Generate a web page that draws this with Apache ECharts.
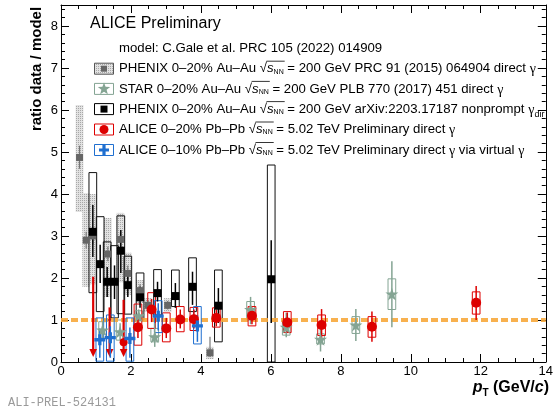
<!DOCTYPE html>
<html><head><meta charset="utf-8">
<script src="https://cdn.jsdelivr.net/npm/echarts@6/dist/echarts.min.js"></script>
<style>html,body{margin:0;padding:0;background:#fff}#c{width:556px;height:410px}</style>
</head><body><div id="c"></div>
<script>
// ---------------- data ----------------
// rows: [pT, ratio, statLow, statHigh, sysLow, sysHigh]
const phenix2015 = [
  [0.53, 4.87, 4.60, 5.15, 3.57, 6.12],
  [0.72, 2.90, 2.70, 3.10, 1.79, 4.02],
  [0.91, 3.00, 2.80, 3.20, 1.85, 4.00],
  [1.34, 2.57, 2.40, 2.75, 1.55, 3.43],
  [1.70, 2.92, 2.75, 3.10, 1.90, 3.55],
  [1.91, 2.11, 1.95, 2.30, 1.60, 2.60],
  [2.26, 1.70, 1.55, 1.85, 1.40, 1.95],
  [2.49, 1.35, 1.25, 1.45, 1.19, 1.52],
  [3.05, 1.35, 1.25, 1.45, 1.19, 1.52],
  [4.26, 0.22, 0.12, 0.60, 0.07, 0.36]
];
const star2017 = [
  [1.19, 0.76, 0.55, 0.98, 0.57, 0.96],
  [1.69, 0.72, 0.52, 0.92, 0.52, 1.00],
  [2.22, 1.10, 0.95, 1.25, 0.98, 1.22],
  [2.68, 0.60, 0.36, 0.93, 0.48, 0.80],
  [5.42, 1.25, 0.90, 1.55, 1.00, 1.44],
  [6.44, 0.83, 0.59, 1.17, 0.64, 1.00],
  [7.42, 0.54, 0.25, 0.83, 0.43, 0.67],
  [8.43, 0.88, 0.50, 1.26, 0.68, 1.08],
  [9.46, 1.62, 0.83, 2.40, 1.25, 1.98]
];
const phenixNonprompt = [
  [0.91, 3.10, 2.50, 3.74, 1.65, 4.51],
  [1.12, 2.33, 1.88, 2.79, 1.20, 3.46],
  [1.32, 1.91, 1.55, 2.26, 1.00, 2.86],
  [1.53, 1.91, 1.50, 2.30, 1.05, 2.77],
  [1.71, 2.65, 2.12, 3.14, 1.15, 3.48],
  [1.91, 1.83, 1.55, 2.12, 1.14, 2.52],
  [2.26, 1.54, 1.29, 1.79, 1.00, 2.12],
  [2.76, 1.64, 1.44, 1.91, 1.12, 2.20],
  [3.27, 1.57, 1.29, 1.88, 1.32, 2.19],
  [3.76, 1.79, 1.36, 2.15, 1.20, 2.48],
  [4.50, 1.34, 0.93, 1.76, 0.48, 2.19],
  [6.01, 1.97, 0.93, 2.90, 0.00, 4.69]
];
const alice020 = [
  [2.20, 0.83, 0.57, 1.12, 0.40, 1.38],
  [2.59, 1.25, 0.95, 1.50, 0.80, 1.65],
  [3.01, 0.80, 0.57, 1.05, 0.48, 1.17],
  [3.41, 1.01, 0.80, 1.25, 0.72, 1.32],
  [3.80, 1.02, 0.80, 1.25, 0.75, 1.30],
  [4.44, 1.05, 0.85, 1.25, 0.83, 1.29],
  [5.46, 1.10, 0.90, 1.30, 0.86, 1.32],
  [6.47, 0.94, 0.70, 1.18, 0.70, 1.20],
  [7.45, 0.88, 0.52, 1.26, 0.63, 1.12],
  [8.89, 0.84, 0.48, 1.20, 0.59, 1.08],
  [11.87, 1.41, 1.00, 1.81, 1.14, 1.67]
];
// upper limits: [pT, limit]
const alice020Limits = [[0.92, 2.03], [1.39, 1.30], [1.79, 1.48]];
const alice020LowPt = [[1.79, 0.47]];
const alice010Virtual = [
  [1.11, 0.53, 0.10, 0.80, 0.02, 1.05],
  [1.41, 0.58, 0.10, 0.85, 0.02, 1.12],
  [1.97, 0.56, 0.10, 0.82, 0.02, 1.05],
  [2.78, 1.09, 0.75, 1.40, 0.70, 1.46],
  [3.90, 0.86, 0.48, 1.12, 0.43, 1.32]
];
const unityRatio = 1;
const xRange = [0, 13.86];
const yRange = [0, 8.5];
const xTickLabels = ['0', '2', '4', '6', '8', '10', '12', '14'];
const yTickLabels = ['0', '1', '2', '3', '4', '5', '6', '7', '8'];
const yTitle = 'ratio data / model';
const headerTitle = 'ALICE Preliminary';
const modelText = 'model: C.Gale et al. PRC 105 (2022) 014909';
const legendTexts = [
  'PHENIX 0–20% Au–Au {sqrt} = 200 GeV PRC 91 (2015) 064904 direct {g}',
  'STAR 0–20% Au–Au {sqrt} = 200 GeV PLB 770 (2017) 451 direct {g}',
  'PHENIX 0–20% Au–Au {sqrt} = 200 GeV arXiv:2203.17187 nonprompt {gdir}',
  'ALICE 0–20% Pb–Pb {sqrt} = 5.02 TeV Preliminary direct {g}',
  'ALICE 0–10% Pb–Pb {sqrt} = 5.02 TeV Preliminary direct {g} via virtual {g}'
];
const watermark = 'ALI-PREL-524131';

// ---------------- styling ----------------
const HW = 0.11;
const SANS = '"Liberation Sans", Arial, sans-serif';
const C_GRAY = '#666666', C_STAR = '#84a493', C_BLACK = '#000000', C_RED = '#dd0000', C_BLUE = '#1f6fd0', C_ORANGE = '#f7a93c';

const pc = document.createElement('canvas'); pc.width = 2; pc.height = 2;
const pctx = pc.getContext('2d');
pctx.fillStyle = '#e2e2e2'; pctx.fillRect(0, 0, 2, 2);
pctx.fillStyle = '#a8a8a8'; pctx.fillRect(0, 0, 1, 1);
const dotted = { image: pc, repeat: 'repeat' };

const STAR_PATH = 'path://M50,0 L61,35 L98,35 L68,57 L79,91 L50,70 L21,91 L32,57 L2,35 L39,35 Z';
const CROSS_PATH = 'path://M35,0 H65 V35 H100 V65 H65 V100 H35 V65 H0 V35 H35 Z';

function boxSeries(data, stroke, fill, z) {
  return {
    type: 'custom', data, z, silent: true, clip: true, encode: { x: 0, y: 1 },
    renderItem(p, api) {
      const x = api.value(0);
      const a = api.coord([x - HW, api.value(5)]), b = api.coord([x + HW, api.value(4)]);
      return { type: 'rect', shape: { x: a[0], y: a[1], width: b[0] - a[0], height: b[1] - a[1] },
        style: { fill: fill || 'none', stroke: stroke || 'none', lineWidth: 1 } };
    }
  };
}
function errSeries(data, color, lw, z) {
  return {
    type: 'custom', data, z, silent: true, clip: true, encode: { x: 0, y: 1 },
    renderItem(p, api) {
      const x = api.value(0);
      const a = api.coord([x, api.value(2)]), b = api.coord([x, api.value(3)]);
      return { type: 'line', shape: { x1: a[0], y1: a[1], x2: b[0], y2: b[1] }, style: { stroke: color, lineWidth: lw } };
    }
  };
}
function markerSeries(data, symbol, size, color, z) {
  return { type: 'scatter', data: data.map(d => [d[0], d[1]]), symbol, symbolSize: size, z, silent: true,
    itemStyle: { color, opacity: 1 } };
}

// text layout helpers
const mctx = document.createElement('canvas').getContext('2d');
function tw(t, font) { mctx.font = font; return mctx.measureText(t).width; }
function segText(segs, x, y, anchor, z) {
  const total = segs.reduce((s, g) => s + tw(g.t, g.font), 0);
  let cx = anchor === 'right' ? x - total : x;
  const els = [];
  segs.forEach(g => {
    els.push({ type: 'text', x: cx, y: y + (g.dy || 0), z: z || 100, silent: true,
      style: { text: g.t, font: g.font, fill: g.fill || '#000', align: 'left', verticalAlign: 'middle',
        textAlign: 'left', textVerticalAlign: 'middle' } });
    if (g.over) {
      els.push({ type: 'line', z: z || 100, silent: true,
        shape: { x1: cx - 0.5, y1: y - 7.5, x2: cx + g.over, y2: y - 7.5 }, style: { stroke: '#000', lineWidth: 0.8 } });
    }
    cx += tw(g.t, g.font);
  });
  return els;
}
const F13 = '13.2px ' + SANS, FI13 = 'italic 13.2px ' + SANS, FSUB = '7px ' + SANS, FG = '14px "Liberation Serif", serif';
function legendSegs(str) {
  const parts = str.split(/(\{sqrt\}|\{gdir\}|\{g\})/).filter(s => s.length);
  const segs = [];
  parts.forEach(s => {
    if (s === '{sqrt}') {
      const over = tw('s', FI13) + tw('NN', FSUB) + 1;
      segs.push({ t: '√', font: F13 });
      segs.push({ t: 's', font: FI13, over });
      segs.push({ t: 'NN', font: FSUB, dy: 3 });
    } else if (s === '{g}') {
      segs.push({ t: 'γ', font: FG, dy: 1 });
    } else if (s === '{gdir}') {
      segs.push({ t: 'γ', font: FG, dy: 1 });
      segs.push({ t: 'dir', font: '9px ' + SANS, dy: 5 });
    } else segs.push({ t: s, font: F13 });
  });
  return segs;
}
function starPoly(cx, cy, r) {
  const pts = [];
  for (let i = 0; i < 10; i++) {
    const rr = i % 2 ? r * 0.42 : r, a = -Math.PI / 2 + i * Math.PI / 5;
    pts.push([cx + rr * Math.cos(a), cy + rr * Math.sin(a)]);
  }
  return pts;
}
function crossPoly(cx, cy, r, t) {
  return [[cx - t, cy - r], [cx + t, cy - r], [cx + t, cy - t], [cx + r, cy - t], [cx + r, cy + t], [cx + t, cy + t],
    [cx + t, cy + r], [cx - t, cy + r], [cx - t, cy + t], [cx - r, cy + t], [cx - r, cy - t], [cx - t, cy - t]];
}

// graphic elements
const graphics = [];
graphics.push({ type: 'text', x: 90, y: 24, silent: true, style: { text: headerTitle, font: '16px ' + SANS, fill: '#000', verticalAlign: 'middle', textVerticalAlign: 'middle' } });
graphics.push({ type: 'text', x: 119, y: 48.3, silent: true, style: { text: modelText, font: F13, fill: '#000', verticalAlign: 'middle', textVerticalAlign: 'middle' } });
const rowY = [68.7, 88.9, 109.1, 129.5, 150];
const boxStyles = [
  { fill: dotted, stroke: '#555' }, { fill: '#fff', stroke: C_STAR }, { fill: '#fff', stroke: '#000' },
  { fill: '#fff', stroke: C_RED }, { fill: '#fff', stroke: C_BLUE }
];
legendTexts.forEach((t, i) => {
  const y = rowY[i];
  graphics.push({ type: 'rect', silent: true, shape: { x: 94.5, y: y - 5.5, width: 19, height: 11 }, style: Object.assign({ lineWidth: 1 }, boxStyles[i]) });
  let sym;
  if (i === 0) sym = { type: 'rect', shape: { x: 101, y: y - 3, width: 6, height: 6 }, style: { fill: C_GRAY } };
  else if (i === 1) sym = { type: 'polygon', shape: { points: starPoly(104, y, 6.5) }, style: { fill: C_STAR } };
  else if (i === 2) sym = { type: 'rect', shape: { x: 100.5, y: y - 3.5, width: 7, height: 7 }, style: { fill: '#000' } };
  else if (i === 3) sym = { type: 'circle', shape: { cx: 104, cy: y, r: 4.5 }, style: { fill: C_RED } };
  else sym = { type: 'polygon', shape: { points: crossPoly(104, y, 5, 1.6) }, style: { fill: C_BLUE } };
  sym.silent = true;
  graphics.push(sym);
  segText(legendSegs(t), 119, y, 'left').forEach(e => graphics.push(e));
});
// axis titles
graphics.push({ type: 'text', x: 37, y: 69, rotation: Math.PI / 2, silent: true,
  style: { text: yTitle, font: 'bold 15px ' + SANS, fill: '#000', align: 'center', verticalAlign: 'middle', textAlign: 'center', textVerticalAlign: 'middle' } });
segText([
  { t: 'p', font: 'bold italic 16px ' + SANS },
  { t: 'T', font: 'bold 10px ' + SANS, dy: 5 },
  { t: ' (GeV/', font: 'bold 16px ' + SANS },
  { t: 'c', font: 'bold italic 16px ' + SANS },
  { t: ')', font: 'bold 16px ' + SANS }
], 549, 388, 'right').forEach(e => graphics.push(e));
graphics.push({ type: 'text', x: 8, y: 403, silent: true, style: { text: watermark, font: '12px "Liberation Mono", monospace', fill: '#9a9a9a', verticalAlign: 'middle', textVerticalAlign: 'middle' } });

// ---------------- chart ----------------
const axisCommon = { min: xRange[0], max: xRange[1], splitLine: { show: false } };
function xAx(pos, interval, len, showLine, showLabel) {
  return Object.assign({}, axisCommon, {
    type: 'value', position: pos, interval,
    axisLine: { show: showLine, onZero: false, lineStyle: { color: '#000', width: 1 } },
    axisTick: { show: true, inside: true, length: len, lineStyle: { color: '#000', width: 1 } },
    axisLabel: { show: showLabel, margin: 3, color: '#000', fontSize: 13, fontFamily: SANS,
      formatter: v => { const i = Math.round(v / 2); return Math.abs(v - i * 2) < 1e-6 ? xTickLabels[i] : (v > 13 ? xTickLabels[7] : ''); } }
  });
}
function yAx(pos, interval, len, showLine, showLabel) {
  return {
    type: 'value', position: pos, min: yRange[0], max: yRange[1], interval, splitLine: { show: false },
    axisLine: { show: showLine, onZero: false, lineStyle: { color: '#000', width: 1 } },
    axisTick: { show: true, inside: true, length: len, lineStyle: { color: '#000', width: 1 } },
    axisLabel: { show: showLabel, margin: 3, color: '#000', fontSize: 13, fontFamily: SANS,
      formatter: v => { const i = Math.round(v); return Math.abs(v - i) < 1e-6 && yTickLabels[i] !== undefined ? yTickLabels[i] : ''; } }
  };
}

const series = [
  boxSeries(phenix2015, null, dotted, 1),
  { type: 'line', data: [], z: 2, silent: true,
    markLine: { silent: true, symbol: 'none', label: { show: false }, animation: false,
      lineStyle: { color: C_ORANGE, width: 4, type: [7, 3], opacity: 0.9 }, data: [{ yAxis: unityRatio }] } },
  boxSeries(phenixNonprompt, '#111', null, 3),
  boxSeries(star2017, C_STAR, null, 4),
  boxSeries(alice020, C_RED, null, 5),
  boxSeries(alice010Virtual, C_BLUE, null, 6),
  errSeries(phenix2015, '#777', 1.2, 7),
  errSeries(star2017, C_STAR, 1.5, 7),
  errSeries(phenixNonprompt, '#000', 1.5, 8),
  errSeries(alice020, C_RED, 1.5, 9),
  errSeries(alice010Virtual, C_BLUE, 1.5, 10),
  {
    type: 'custom', data: alice020Limits, z: 9, silent: true, clip: true, encode: { x: 0, y: 1 },
    renderItem(p, api) {
      const x = api.value(0);
      const a = api.coord([x, api.value(1)]), b = api.coord([x, 0]);
      const tip = b[1] - 5;
      return { type: 'group', children: [
        { type: 'line', shape: { x1: a[0], y1: a[1], x2: a[0], y2: tip - 6 }, style: { stroke: C_RED, lineWidth: 2.2 } },
        { type: 'polygon', shape: { points: [[a[0] - 3.8, tip - 8], [a[0] + 3.8, tip - 8], [a[0], tip]] }, style: { fill: C_RED } }
      ] };
    }
  },
  markerSeries(phenix2015, 'rect', 7, C_GRAY, 11),
  markerSeries(star2017, STAR_PATH, 13, C_STAR, 12),
  markerSeries(phenixNonprompt, 'rect', 8, '#000', 13),
  markerSeries(alice020, 'circle', 10, C_RED, 14),
  markerSeries(alice020LowPt, 'circle', 8, C_RED, 14),
  markerSeries(alice010Virtual, CROSS_PATH, 11, C_BLUE, 15)
];

const chart = echarts.init(document.getElementById('c'), null, { renderer: 'canvas' });
chart.setOption({
  animation: false,
  backgroundColor: '#fff',
  grid: { left: 61, right: 7, top: 5, bottom: 48, containLabel: false },
  xAxis: [xAx('bottom', 2, 8, true, true), xAx('bottom', 0.5, 4, false, false), xAx('top', 2, 8, true, false), xAx('top', 0.5, 4, false, false)],
  yAxis: [yAx('left', 1, 8, true, true), yAx('left', 0.2, 4, false, false), yAx('right', 1, 8, true, false), yAx('right', 0.2, 4, false, false)],
  series,
  graphic: { elements: graphics }
});
</script></body></html>
